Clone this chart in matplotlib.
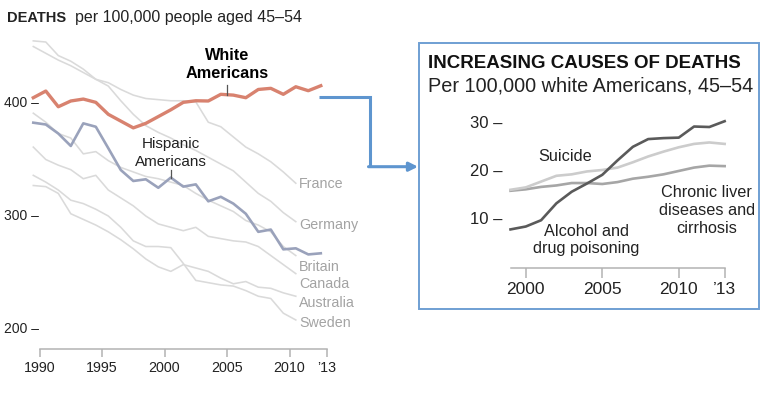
import matplotlib
matplotlib.use('Agg')
import matplotlib.pyplot as plt
from matplotlib.lines import Line2D
from matplotlib.patches import Rectangle, FancyArrowPatch
import matplotlib.transforms as mtransforms

plt.rcParams['font.family'] = ['Liberation Sans', 'DejaVu Sans']

# ---------------- data ----------------
years = list(range(1990, 2014))
white_us = [404.7, 410.6, 396.7, 401.8, 403.5, 400.6, 390.0, 384.0, 378.0, 382.0,
            388.0, 394.0, 400.6, 402.0, 401.8, 407.7, 407.0, 404.7, 412.0, 413.0,
            407.7, 414.4, 410.9, 415.3]
hispanic_us = [382.6, 381.0, 373.0, 362.0, 382.0, 379.0, 360.0, 340.7, 331.0, 332.5,
               325.0, 334.0, 326.0, 328.0, 313.0, 317.0, 311.0, 302.0, 286.0, 288.0,
               270.5, 271.4, 266.0, 267.0]

country_years = list(range(1990, 2012))
country_names = ['France', 'Germany', 'Britain', 'Canada', 'Australia', 'Sweden']
france = [450, 444, 438, 433, 427, 421, 418, 412, 407, 404, 403, 402, 402, 401,
          383, 379, 370, 361, 355, 348, 339, 329]
germany = [455, 454, 442, 437, 430, 421, 415, 402, 390, 380, 374, 369, 363, 358,
           352, 346, 340, 330, 320, 313, 303, 295]
britain = [391, 383, 373, 369, 355, 357, 349, 343, 339, 335, 333, 330, 327, 320,
           314, 309, 304, 296, 292, 286, 273, 265]
canada = [361, 350, 345, 341, 333, 336, 323, 316, 309, 300, 293, 290, 287, 290,
          282, 280, 278, 277, 273, 265, 257, 249]
australia = [327, 326, 320, 302, 297, 292, 286, 279, 271, 262, 255, 251, 257, 254,
             251, 245, 240, 242, 237, 236, 232, 229]
sweden = [336, 330, 323, 314, 311, 306, 300, 290, 278, 273, 273, 272, 258, 243,
          241, 239, 238, 234, 229, 227, 214, 208]
countries = [france, germany, britain, canada, australia, sweden]

left_xtick_years = [1990, 1995, 2000, 2005, 2010, 2013]
left_xtick_labels = ['1990', '1995', '2000', '2005', '2010', '\u201913']
left_yticks = [200, 300, 400]

cause_years = list(range(1999, 2014))
alcohol = [7.7, 8.3, 9.6, 13.1, 15.5, 17.2, 19.0, 22.0, 24.8, 26.4, 26.6, 26.7,
           29.0, 28.9, 30.1]
suicide = [15.9, 16.4, 17.6, 18.8, 19.1, 19.7, 20.0, 20.5, 21.6, 22.8, 23.8, 24.7,
           25.4, 25.7, 25.4]
liver = [15.7, 16.0, 16.5, 16.8, 17.3, 17.3, 17.1, 17.5, 18.2, 18.6, 19.1, 19.8,
         20.5, 20.9, 20.8]
right_xticks = [2000, 2005, 2010, 2013]
right_xtick_labels = ['2000', '2005', '2010', '\u201913']
right_yticks = [10, 20, 30]

# ---------------- layout helpers ----------------
W, H = 767, 397
fig = plt.figure(figsize=(W / 100, H / 100), dpi=100)
fig.patch.set_facecolor('white')


def rect(x0, x1, ytop, ybot):
    return [x0 / W, 1 - ybot / H, (x1 - x0) / W, (ybot - ytop) / H]


def ftext(px, py, s, **kw):
    kw.setdefault('va', 'baseline')
    return fig.text(px / W, 1 - py / H, s, **kw)


def fline(xs, ys, **kw):
    fig.add_artist(Line2D([x / W for x in xs], [1 - y / H for y in ys],
                          transform=fig.transFigure, **kw))


TXT = '#222222'
GRAYLBL = '#a3a3a3'
AXC = '#b3b3b3'

# ---------------- left panel ----------------
ax = fig.add_axes(rect(30, 330, 35, 349))
ax.set_xlim(1989.736, 2013.736)
ax.set_ylim(182.3, 460.2)
ax.patch.set_visible(False)
for vals in countries:
    ax.plot(country_years, vals, color='#dadada', lw=1.15, zorder=1)
ax.plot(years, hispanic_us, color='#9aa2bb', lw=1.9, zorder=3)
ax.plot(years, white_us, color='#d8826f', lw=2.4, zorder=4)
for s in ['top', 'right', 'left']:
    ax.spines[s].set_visible(False)
ax.spines['bottom'].set_color(AXC)
ax.spines['bottom'].set_linewidth(1.1)
ax.spines['bottom'].set_bounds(1990.5, 2013.5)
ax.set_xticks([y + 0.5 for y in left_xtick_years], labels=left_xtick_labels)
ax.tick_params(axis='x', direction='out', length=5.5, width=1.1, color=AXC,
               labelsize=10.3, labelcolor=TXT, pad=3.5)
ax.set_yticks([])
off = mtransforms.ScaledTranslation(9 / 100, 0, fig.dpi_scale_trans)
for v in left_yticks:
    ax.text(0, v, f'{v} \u2013', transform=ax.get_yaxis_transform() + off,
            ha='right', va='center', fontsize=10, color=TXT)

# header
ftext(6.7, 21.7, 'DEATHS', fontsize=10.5, fontweight='bold', color=TXT)
ftext(75, 21.7, 'per 100,000 people aged 45\u201354', fontsize=11.5, color=TXT)

# series labels
ftext(226.7, 60, 'White', fontsize=11.7, fontweight='bold', color='black', ha='center')
ftext(226.7, 78.3, 'Americans', fontsize=11.7, fontweight='bold', color='black', ha='center')
fline([226.7, 226.7], [85, 95], color='#555555', lw=0.9)
ftext(170.7, 148.3, 'Hispanic', fontsize=11, color=TXT, ha='center')
ftext(170.7, 165.7, 'Americans', fontsize=11, color=TXT, ha='center')
fline([170.7, 170.7], [170, 178], color='#555555', lw=0.9)

label_baselines = [188.3, 229, 270.7, 288.3, 306.7, 326.7]
for name, yb in zip(country_names, label_baselines):
    ftext(299, yb, name, fontsize=10.3, color=GRAYLBL)

# ---------------- connector ----------------
BLUE = '#5e95cf'
fline([319, 369.5, 369.5], [96.7, 96.7, 166.7], color=BLUE, lw=2.2,
      solid_joinstyle='miter', solid_capstyle='butt')
fig.add_artist(FancyArrowPatch((368.5 / W, 1 - 166.7 / H), (418 / W, 1 - 166.7 / H),
                               transform=fig.transFigure, arrowstyle='-|>',
                               mutation_scale=13, color=BLUE, lw=2.2,
                               shrinkA=0, shrinkB=0))

# ---------------- right panel box ----------------
fig.add_artist(Rectangle((419.3 / W, 1 - 309 / H), (759 - 419.3) / W, (309 - 43.3) / H,
                         transform=fig.transFigure, facecolor='none',
                         edgecolor='#6f9fd3', lw=1.4))
ftext(428, 68.3, 'INCREASING CAUSES OF DEATHS', fontsize=13.5, fontweight='bold',
      color='#111111')
ftext(428, 91.7, 'Per 100,000 white Americans, 45\u201354', fontsize=14.3, color=TXT)

ax2 = fig.add_axes(rect(505, 730, 110, 268.3))
ax2.set_xlim(1998.64, 2013.35)
ax2.set_ylim(-0.35, 32.42)
ax2.patch.set_visible(False)
ax2.plot(cause_years, liver, color='#a6a6a6', lw=1.9, zorder=2)
ax2.plot(cause_years, suicide, color='#cccccc', lw=1.9, zorder=2)
ax2.plot(cause_years, alcohol, color='#5a5a5a', lw=1.9, zorder=3)
for s in ['top', 'right', 'left']:
    ax2.spines[s].set_visible(False)
ax2.spines['bottom'].set_color(AXC)
ax2.spines['bottom'].set_linewidth(1.1)
ax2.spines['bottom'].set_bounds(1999, 2013)
ax2.set_xticks(right_xticks, labels=right_xtick_labels)
ax2.tick_params(axis='x', direction='out', length=7, width=1.1, color=AXC,
                labelsize=12.5, labelcolor=TXT, pad=3)
ax2.set_yticks(right_yticks, labels=[f'{v} \u2013' for v in right_yticks])
ax2.tick_params(axis='y', length=0, labelsize=12, labelcolor=TXT, pad=2)

ftext(565, 160.7, 'Suicide', fontsize=11.7, color=TXT, ha='center')
ftext(706.7, 196.7, 'Chronic liver', fontsize=11.7, color=TXT, ha='center')
ftext(706.7, 215, 'diseases and', fontsize=11.7, color=TXT, ha='center')
ftext(706.7, 232.7, 'cirrhosis', fontsize=11.7, color=TXT, ha='center')
ftext(586, 235.7, 'Alcohol and', fontsize=11.7, color=TXT, ha='center')
ftext(586, 253.3, 'drug poisoning', fontsize=11.7, color=TXT, ha='center')

fig.savefig('out.png', dpi=100)
